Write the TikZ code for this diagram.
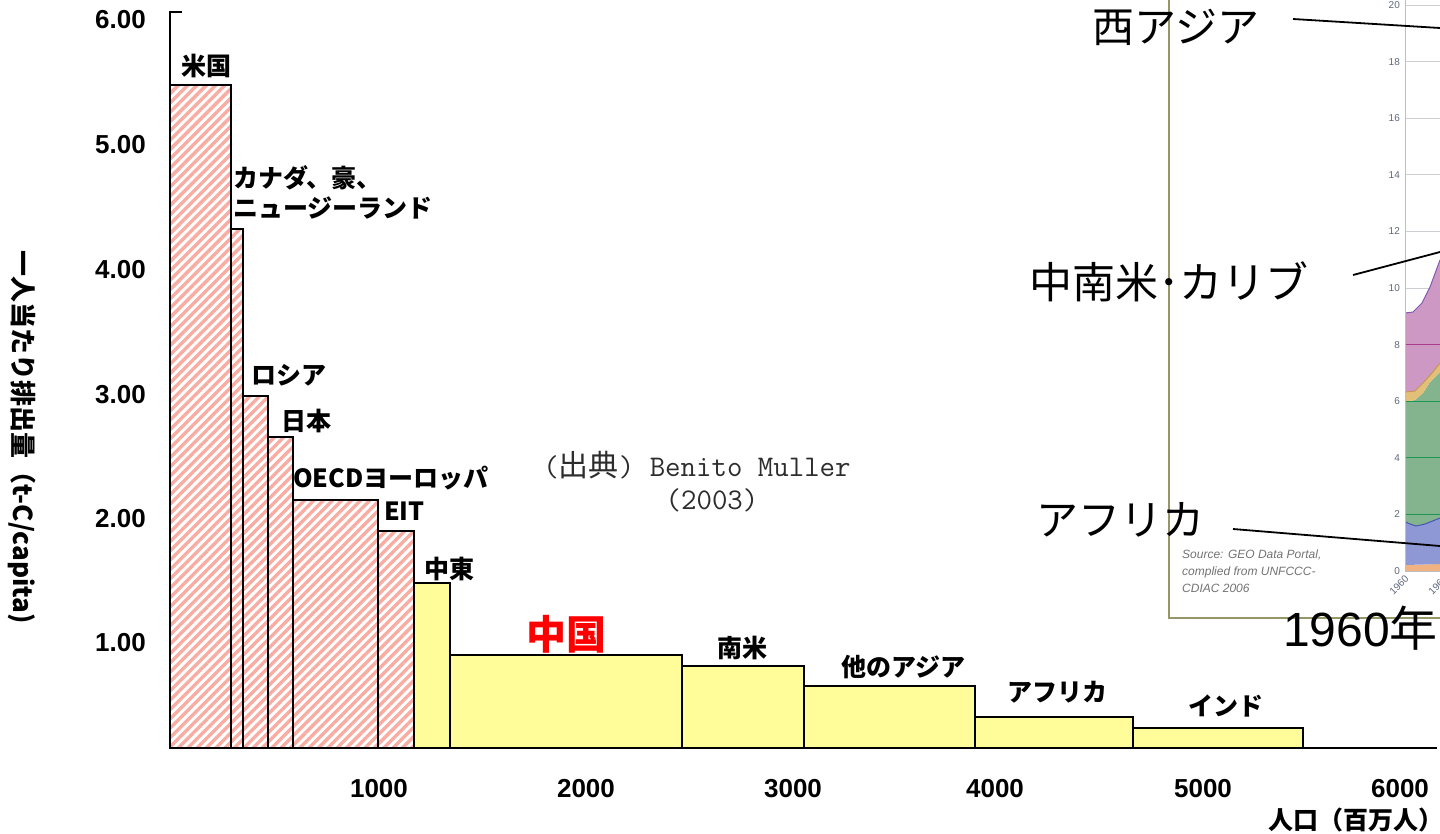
\documentclass[tikz,border=0pt]{standalone}
\usepackage{fontspec}
\setmainfont{Liberation Sans}
\newfontfamily\jp{Noto Sans CJK JP}
\usetikzlibrary{patterns.meta}
\definecolor{hatchpink}{RGB}{248,172,162}
\definecolor{barylw}{RGB}{255,253,153}
\definecolor{frameol}{RGB}{150,150,105}
\definecolor{srcgray}{RGB}{45,45,45}
\definecolor{notegray}{RGB}{115,115,115}
\definecolor{tickgray}{RGB}{95,105,125}
\definecolor{gridgray}{RGB}{205,205,210}
\definecolor{arorange}{RGB}{240,178,130}
\definecolor{arblue}{RGB}{142,152,212}
\definecolor{arblueline}{RGB}{70,85,180}
\definecolor{argreen}{RGB}{132,180,142}
\definecolor{argreenline}{RGB}{30,150,80}
\definecolor{artan}{RGB}{226,192,122}
\definecolor{artanline}{RGB}{200,150,80}
\definecolor{arpurple}{RGB}{206,152,196}
\definecolor{arpurpleline}{RGB}{130,90,175}
\definecolor{armagline}{RGB}{170,60,140}
\newcommand\labfont{\jp\bfseries\fontsize{25}{30}\selectfont}
\begin{document}
\begin{tikzpicture}[x=1pt,y=-1pt,
  bar/.style={draw=black, line width=2.7pt},
  hatchbar/.style={bar, pattern={Lines[angle=45,distance=6.6pt,line width=3.4pt]}, pattern color=hatchpink},
  ylwbar/.style={bar, fill=barylw},
  axisline/.style={draw=black, line width=2.7pt},
  lbl/.style={font=\labfont, inner sep=0pt},
  ytick/.style={font=\bfseries\fontsize{26}{30}\selectfont, anchor=east, inner sep=0pt},
  xtick/.style={font=\bfseries\fontsize{26}{30}\selectfont, inner sep=0pt},
  big/.style={font=\jp\fontsize{42}{46}\selectfont, inner sep=0pt},
  callout/.style={draw=black, line width=1.8pt},
  srcstyle/.style={text=srcgray, inner sep=0pt, font=\fontsize{30}{34}\selectfont},
  charttick/.style={font=\fontsize{10}{12}\selectfont, text=tickgray, anchor=east, inner sep=0pt},
]
\useasboundingbox (0,0) rectangle (1440,833);
\fill[white] (0,0) rectangle (1440,833);

% ---------- inset (background picture) ----------
\begin{scope}
\clip (1405,0) rectangle (1440,571);
\foreach \v in {10,12,...,20} \draw[gridgray, line width=1pt] (1405,{571-28.3*\v}) -- (1440,{571-28.3*\v});
\fill[arorange] (1405,571) -- (1405,565) -- (1440,564) -- (1440,571) -- cycle;
\fill[arblue] (1405,565) -- (1405,521.7) -- (1410,524) -- (1416,526) -- (1425,524) -- (1440,518) -- (1440,564) -- cycle;
\fill[argreen] (1405,521.7) -- (1410,524) -- (1416,526) -- (1425,524) -- (1440,518) -- (1440,372) -- (1430,382) -- (1423,393) -- (1415,400) -- (1405,401.7) -- cycle;
\fill[artan] (1405,401.7) -- (1415,400) -- (1423,393) -- (1430,382) -- (1440,372) -- (1440,363) -- (1432,373) -- (1423,383) -- (1415,391) -- (1405,392) -- cycle;
\fill[arpurple] (1405,392) -- (1415,391) -- (1423,383) -- (1432,373) -- (1440,363) -- (1440,260) -- (1430,287) -- (1422,303) -- (1413,312) -- (1405,313) -- cycle;
\draw[armagline, line width=1pt] (1405,{571-28.3*8}) -- (1440,{571-28.3*8});
\foreach \v in {2,4,6} \draw[argreenline, line width=1pt] (1405,{571-28.3*\v}) -- (1440,{571-28.3*\v});
\draw[arblueline, line width=1pt] (1405,521.7) -- (1410,524) -- (1416,526) -- (1425,524) -- (1440,518);
\draw[artanline, line width=1pt] (1405,392) -- (1415,391) -- (1423,383) -- (1432,373) -- (1440,363);
\draw[arpurpleline, line width=1pt] (1405,313) -- (1413,312) -- (1422,303) -- (1430,287) -- (1440,260);
\end{scope}
\draw[gridgray!80!gray, line width=1pt] (1405,0) -- (1405,571) -- (1440,571);
\foreach \v in {0,2,...,20} \node[charttick] (ct\v) at (1400,{571-28.3*\v}) {\v};
\node[font=\fontsize{10}{12}\selectfont, text=tickgray, rotate=45, anchor=east, inner sep=0pt] (yr1) at (1407,577) {1960};
\node[font=\fontsize{10}{12}\selectfont, text=tickgray, rotate=45, anchor=east, inner sep=0pt] (yr2) at (1446,577) {1964};
\node[anchor=north west, align=left, inner sep=0pt, text=notegray, font=\itshape\fontsize{12}{17}\selectfont] (srcnote) at (1182,550) {Source: GEO Data Portal,\\complied from UNFCCC-\\CDIAC 2006};
\draw[frameol, line width=1.6pt] (1169,-5) -- (1169,618) -- (1445,618);

% ---------- bars ----------
\path[hatchbar] (170,748) rectangle (231,85);
\path[hatchbar] (231,748) rectangle (243,229);
\path[hatchbar] (243,748) rectangle (268,396);
\path[hatchbar] (268,748) rectangle (293,437);
\path[hatchbar] (293,748) rectangle (378,500);
\path[hatchbar] (378,748) rectangle (414,531);
\path[ylwbar] (414,748) rectangle (450,583);
\path[ylwbar] (450,748) rectangle (682,655);
\path[ylwbar] (682,748) rectangle (804,666);
\path[ylwbar] (804,748) rectangle (975,686);
\path[ylwbar] (975,748) rectangle (1133,717);
\path[ylwbar] (1133,748) rectangle (1303,728);

% ---------- axes ----------
\draw[axisline] (182,12) -- (170,12) -- (170,748) -- (1437,748);

\node[ytick] (y6) at (146,20) {6.00};
\node[ytick] (y5) at (146,145) {5.00};
\node[ytick] (y4) at (146,270) {4.00};
\node[ytick] (y3) at (146,395) {3.00};
\node[ytick] (y2) at (146,519) {2.00};
\node[ytick] (y1) at (146,643) {1.00};

\node[xtick] (x1) at (379,789) {1000};
\node[xtick] (x2) at (586,789) {2000};
\node[xtick] (x3) at (793,789) {3000};
\node[xtick] (x4) at (995,789) {4000};
\node[xtick] (x5) at (1203,789) {5000};
\node[xtick] (x6) at (1400,789) {6000};

\node[lbl] (xlab) at (1356,820) {人口（百万人）};
\node[lbl, rotate=-90, font=\jp\bfseries\fontsize{26}{30}\selectfont] (ylab) at (22,437) {一人当たり排出量（t-C/capita)};

% ---------- bar labels ----------
\node[lbl] (lUS) at (206,66) {米国};
\node[lbl, anchor=west, align=left] (lCAN) at (233,192) {カナダ、豪、\\ニュージーランド};
\node[lbl] (lRU) at (289,375) {ロシア};
\node[lbl] (lJP) at (306,421) {日本};
\node[lbl, anchor=west] (lEU) at (293,478) {OECDヨーロッパ};
\node[lbl, anchor=west] (lEIT) at (384,511) {EIT};
\node[lbl, anchor=west] (lME) at (424,569) {中東};
\node[inner sep=0pt, text=red, font=\jp\bfseries\fontsize{40}{44}\selectfont] (lCN) at (566,634) {中国};
\node[lbl] (lSA) at (742,648) {南米};
\node[lbl] (lOA) at (903,667) {他のアジア};
\node[lbl] (lAF) at (1057,692) {アフリカ};
\node[lbl] (lIN) at (1226,706) {インド};

% ---------- source ----------
\node[srcstyle] (src1) at (697,465) {\ttfamily(\jp 出典\ttfamily) Benito Muller};
\node[srcstyle] (src2) at (712,500) {\ttfamily(2003)};

% ---------- inset callouts ----------
\node[big] (cWA) at (1176,27) {西アジア};
\node[big, font=\jp\fontsize{43}{46}\selectfont] (cLA) at (1169,282) {中南米･カリブ};
\node[big] (cAF) at (1120,520) {アフリカ};
\node[inner sep=0pt, anchor=west, font=\fontsize{48}{52}\selectfont] (c1960) at (1283,628) {1960{\jp 年}};
\coordinate (waS) at (1293,19);
\coordinate (waE) at (1440,28);
\coordinate (laS) at (1353,275);
\coordinate (laE) at (1440,252);
\coordinate (afS) at (1233,529);
\coordinate (afE) at (1440,546);
\draw[callout] (waS) -- (waE);
\draw[callout] (laS) -- (laE);
\draw[callout] (afS) -- (afE);
\end{tikzpicture}
\end{document}
